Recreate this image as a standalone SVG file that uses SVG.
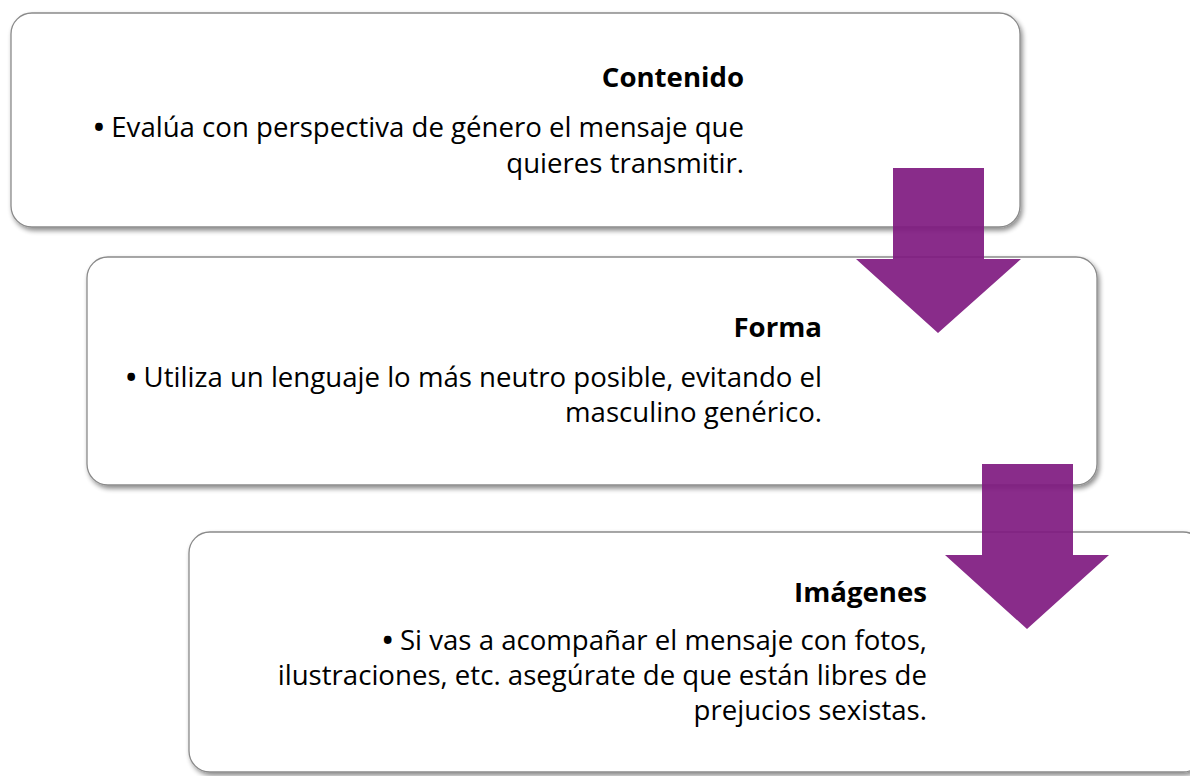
<svg xmlns="http://www.w3.org/2000/svg" width="1190" height="776" viewBox="0 0 1190 776">
<defs>
<filter id="sh" x="-5%" y="-5%" width="110%" height="115%">
<feGaussianBlur in="SourceAlpha" stdDeviation="2.5"/>
<feOffset dx="2" dy="3" result="b"/>
<feComponentTransfer><feFuncA type="linear" slope="0.45"/></feComponentTransfer>
<feMerge><feMergeNode/><feMergeNode in="SourceGraphic"/></feMerge>
</filter>
</defs>
<style>
.box{fill:#fff;stroke:#8a8a8a;stroke-width:1.3;filter:url(#sh)}
.t{font-family:"Open Sans","Noto Sans",sans-serif;font-size:27.6px;fill:#000;text-anchor:end}
.h{font-weight:bold}
.b{font-weight:bold}
.arr{fill:#7f1a80;fill-opacity:0.92}
</style>
<g id="node-contenido">
<rect class="box" x="11" y="13" width="1009" height="214" rx="21"/>
<text class="t h" x="744" y="87">Contenido</text>
<text class="t" x="744" y="137"><tspan class="b">•</tspan> Evalúa con perspectiva de género el mensaje que</text>
<text class="t" x="744" y="173">quieres transmitir.</text>
</g>
<g id="node-forma">
<rect class="box" x="87" y="257" width="1010" height="228" rx="21"/>
<text class="t h" x="822" y="337">Forma</text>
<text class="t" x="822" y="387"><tspan class="b">•</tspan> Utiliza un lenguaje lo más neutro posible, evitando el</text>
<text class="t" x="822" y="422">masculino genérico.</text>
</g>
<g id="node-imagenes">
<rect class="box" x="189" y="532" width="1015" height="240" rx="21"/>
<text class="t h" x="927" y="602">Imágenes</text>
<text class="t" x="927" y="650"><tspan class="b">•</tspan> Si vas a acompañar el mensaje con fotos,</text>
<text class="t" x="927" y="685">ilustraciones, etc. asegúrate de que están libres de</text>
<text class="t" x="927" y="720">prejucios sexistas.</text>
</g>
<g id="connectors">
<path class="arr" d="M893 168 H984 V259 H1021 L938 333 L856 259 H893 Z"/>
<path class="arr" d="M982 464 H1073 V555 H1109 L1027 629 L945 555 H982 Z"/>
</g>
</svg>
